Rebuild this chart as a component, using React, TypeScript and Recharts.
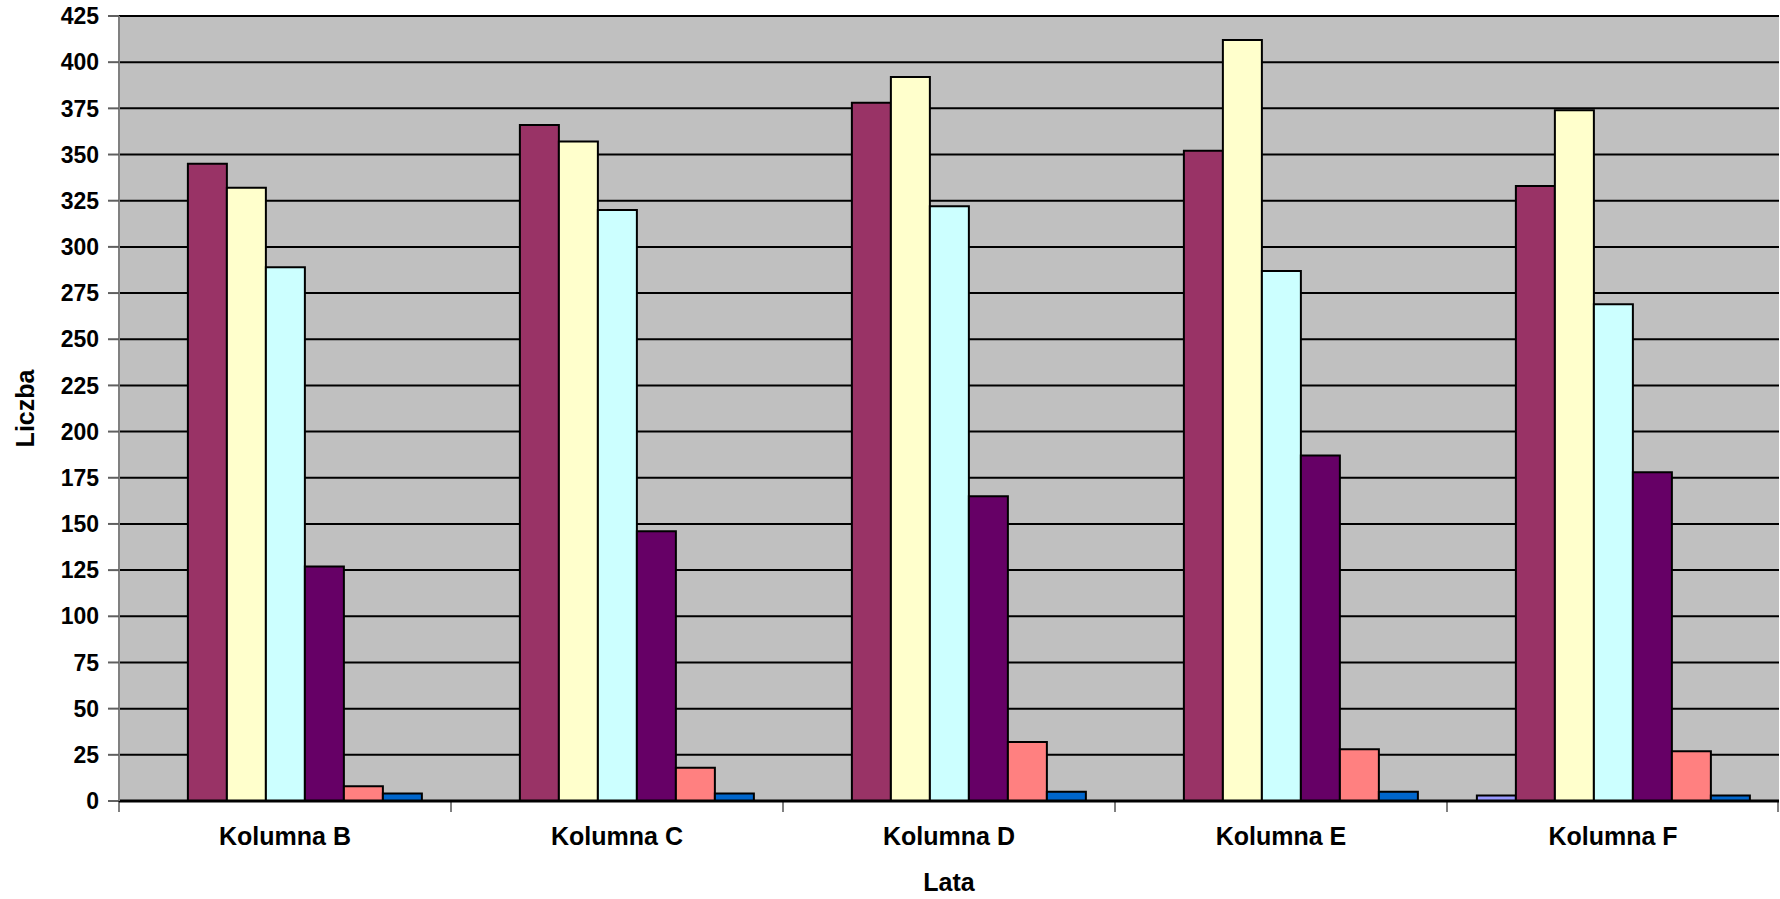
import React from 'react';
import { BarChart, Bar, XAxis, YAxis, CartesianGrid, Label } from 'recharts';

const CATEGORIES = ['Kolumna B', 'Kolumna C', 'Kolumna D', 'Kolumna E', 'Kolumna F'];

// seven series, default Excel palette order
const SERIES_NAMES = ['Seria 1', 'Seria 2', 'Seria 3', 'Seria 4', 'Seria 5', 'Seria 6', 'Seria 7'];
const SERIES_COLORS = ['#9999FF', '#993366', '#FFFFCC', '#CCFFFF', '#660066', '#FF8080', '#0066CC'];

const s1 = [0, 0, 0, 0, 3];
const s2 = [345, 366, 378, 352, 333];
const s3 = [332, 357, 392, 412, 374];
const s4 = [289, 320, 322, 287, 269];
const s5 = [127, 146, 165, 187, 178];
const s6 = [8, 18, 32, 28, 27];
const s7 = [4, 4, 5, 5, 3];

const Y_TICKS = [0, 25, 50, 75, 100, 125, 150, 175, 200, 225, 250, 275, 300, 325, 350, 375, 400, 425];

const ALL = [s1, s2, s3, s4, s5, s6, s7];

const data = CATEGORIES.map((name, i) => {
  const row: any = { name };
  ALL.forEach((s, k) => {
    row[`s${k + 1}`] = s[i];
  });
  return row;
});

const FONT = '"Liberation Sans", Arial, sans-serif';

// category label plus the small marks at the category boundaries
const CategoryTick = (props: any) => {
  const { x, y, payload, index, visibleTicksCount } = props;
  const half = payload && payload.offset ? payload.offset : 166;
  const axisY = y - 26;
  const last = index === (visibleTicksCount || CATEGORIES.length) - 1;
  return (
    <g>
      <line x1={x - half} x2={x - half} y1={axisY} y2={axisY + 11} stroke="#000" strokeWidth={1} />
      {last && <line x1={x + half - 1} x2={x + half - 1} y1={axisY} y2={axisY + 11} stroke="#000" strokeWidth={1} />}
      <text x={x} y={y} dy="0.71em" textAnchor="middle" fontSize={25} fontWeight={700} fontFamily={FONT} fill="#000">
        {payload.value}
      </text>
    </g>
  );
};

export default function App() {
  return (
    <div style={{ position: 'absolute', left: 0, top: 0, width: 1780, height: 899, background: '#fff', fontFamily: FONT }}>
      <BarChart
        width={1780}
        height={899}
        data={data}
        margin={{ top: 16, right: 1, left: 0, bottom: 0 }}
        barCategoryGap="9%"
        barGap={0}
      >
        <CartesianGrid vertical={false} stroke="#000" strokeWidth={2} fill="#C0C0C0" fillOpacity={1} />
        <XAxis
          dataKey="name"
          height={98}
          tickSize={0}
          tickMargin={26}
          interval={0}
          axisLine={{ stroke: '#000', strokeWidth: 3 }}
          tickLine={false}
          tick={<CategoryTick />}
        >
          <Label
            content={(props: any) => {
              const vb = props.viewBox;
              return (
                <text x={vb.x + vb.width / 2} y={891} textAnchor="middle" fontSize={25} fontWeight={700} fontFamily={FONT} fill="#000">
                  Lata
                </text>
              );
            }}
          />
        </XAxis>
        <YAxis
          width={119}
          domain={[0, 425]}
          ticks={Y_TICKS}
          interval={0}
          tickSize={11}
          tickMargin={9}
          axisLine={{ stroke: '#808080', strokeWidth: 2 }}
          tickLine={{ stroke: '#606060', strokeWidth: 2 }}
          tick={{ fill: '#000', fontSize: 23, fontWeight: 700, fontFamily: FONT }}
        >
          <Label
            content={(props: any) => {
              const vb = props.viewBox;
              const cx = 25;
              const cy = vb.y + vb.height / 2;
              return (
                <text
                  x={cx}
                  y={cy}
                  transform={`rotate(-90, ${cx}, ${cy})`}
                  textAnchor="middle"
                  dominantBaseline="central"
                  fontSize={25}
                  fontWeight={700}
                  fontFamily={FONT}
                  fill="#000"
                >
                  Liczba
                </text>
              );
            }}
          />
        </YAxis>
        {SERIES_NAMES.map((n, k) => (
          <Bar
            key={n}
            name={n}
            dataKey={`s${k + 1}`}
            fill={SERIES_COLORS[k]}
            stroke="#000"
            strokeWidth={2}
            isAnimationActive={false}
          />
        ))}
      </BarChart>
    </div>
  );
}
